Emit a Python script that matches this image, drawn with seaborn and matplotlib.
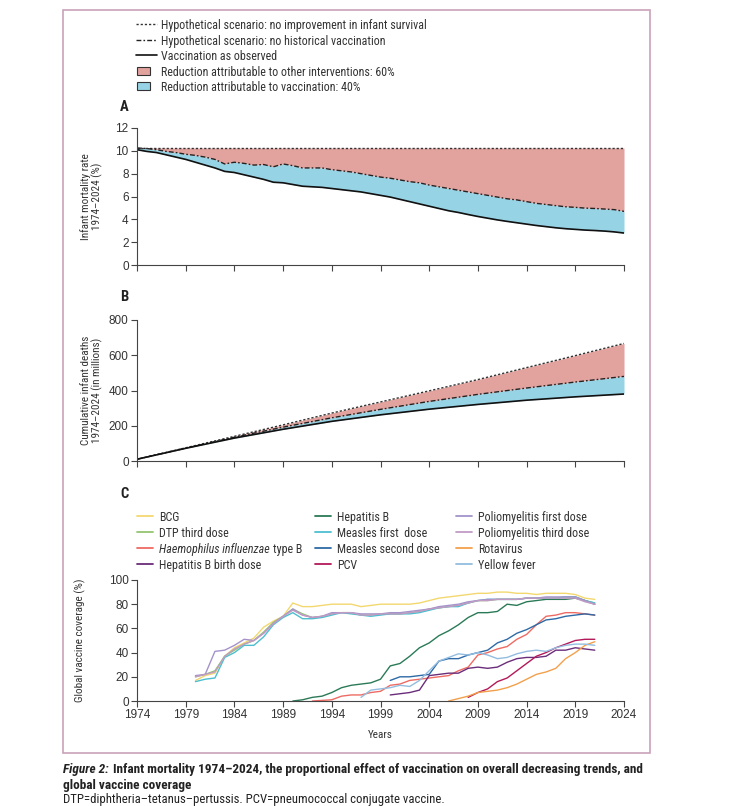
import matplotlib
matplotlib.use("Agg")
import matplotlib.pyplot as plt
import seaborn as sns
import pandas as pd
from matplotlib import font_manager
from matplotlib.lines import Line2D
from matplotlib.patches import Rectangle

# ---------------- data ----------------
years = list(range(1974, 2025))
observed = [10.1, 9.95, 9.85, 9.65, 9.45, 9.25, 9.0, 8.75, 8.5, 8.2,
            8.1, 7.9, 7.7, 7.5, 7.25, 7.2, 7.05, 6.9, 6.85, 6.8,
            6.7, 6.6, 6.5, 6.4, 6.25, 6.1, 5.95, 5.75, 5.55, 5.35,
            5.15, 4.95, 4.75, 4.6, 4.42, 4.25, 4.1, 3.95, 3.82, 3.7,
            3.58, 3.46, 3.36, 3.26, 3.18, 3.12, 3.06, 3.02, 2.97, 2.9, 2.8]
no_vaccination = [10.25, 10.2, 10.1, 9.95, 9.85, 9.7, 9.6, 9.45, 9.25, 8.85,
                  9.0, 8.9, 8.75, 8.8, 8.6, 8.85, 8.7, 8.5, 8.5, 8.5,
                  8.35, 8.25, 8.15, 8.0, 7.85, 7.7, 7.6, 7.45, 7.3, 7.2,
                  7.0, 6.85, 6.7, 6.55, 6.4, 6.25, 6.1, 5.95, 5.8, 5.7,
                  5.55, 5.4, 5.3, 5.2, 5.1, 5.05, 4.98, 4.95, 4.9, 4.85, 4.7]
no_improvement = [10.25, 10.25, 10.25, 10.25, 10.25, 10.25, 10.25, 10.25, 10.25, 10.25,
                  10.25, 10.25, 10.25, 10.25, 10.25, 10.25, 10.25, 10.25, 10.25, 10.25,
                  10.25, 10.25, 10.25, 10.25, 10.25, 10.25, 10.25, 10.25, 10.25, 10.25,
                  10.25, 10.25, 10.25, 10.25, 10.25, 10.25, 10.25, 10.25, 10.25, 10.25,
                  10.25, 10.25, 10.25, 10.25, 10.25, 10.25, 10.25, 10.25, 10.25, 10.25, 10.25]

years_b = [1974, 1979, 1984, 1989, 1994, 1999, 2004, 2009, 2014, 2019, 2024]
cum_observed = [10, 72, 130, 180, 225, 262, 294, 321, 345, 364, 380]
cum_no_vaccination = [10, 73, 135, 192, 245, 293, 338, 378, 414, 448, 480]
cum_no_improvement = [10, 75, 140, 205, 272, 335, 398, 462, 530, 598, 667]

bcg_start = 1980
bcg = [17, 21, 23, 37, 44, 48, 52, 61, 66, 70, 81, 78, 78, 79, 80, 80, 80, 78, 79, 80,
       80, 80, 80, 81, 83, 85, 86, 87, 88, 89, 89, 90, 90, 89, 89, 88, 89, 89, 89, 88, 85, 84]
dtp3_start = 1980
dtp3 = [20, 22, 25, 37, 42, 47, 50, 57, 65, 70, 76, 72, 69, 70, 72, 73, 73, 71, 71, 72,
        72, 72, 73, 74, 76, 77, 78, 79, 81, 83, 83, 84, 84, 84, 85, 85, 85, 85, 86, 86, 83, 81]
hib_start = 1992
hib = [0, 0.5, 1, 4, 5, 5, 7, 8, 13, 14, 17, 18, 19, 20, 21, 25, 28, 38, 40, 43,
       45, 51, 55, 63, 70, 71, 73, 73, 72, 71]
hepb_birth_start = 2000
hepb_birth = [5, 6, 7, 9, 21, 22, 23, 23, 27, 28, 27, 28, 32, 35, 36, 36, 37, 42, 42, 44, 43, 42]
hepb_start = 1990
hepb = [0, 1, 3, 4, 7, 11, 13, 14, 15, 18, 29, 31, 37, 44, 48, 54, 58, 63, 69, 73,
        73, 74, 80, 79, 82, 83, 84, 84, 84, 85, 83, 80]
measles1_start = 1980
measles1 = [16, 18, 19, 36, 40, 46, 46, 53, 63, 69, 73, 68, 68, 69, 71, 73, 72, 71, 70, 71,
            72, 72, 72, 73, 75, 77, 78, 78, 81, 83, 84, 84, 84, 84, 85, 85, 85, 85, 86, 86, 83, 81]
measles2_start = 2000
measles2 = [17, 20, 20, 21, 22, 33, 35, 35, 38, 40, 42, 48, 51, 56, 59, 63, 67, 68, 70, 71, 72, 71]
pcv_start = 2008
pcv = [3, 7, 10, 16, 19, 25, 31, 37, 40, 44, 47, 50, 51, 51]
polio1_start = 1980
polio1 = [21, 22, 41, 42, 46, 51, 50, 56, 64, 70, 76, 71, 69, 70, 73, 73, 73, 72, 72, 72,
          73, 73, 74, 75, 76, 78, 79, 80, 82, 83, 84, 84, 84, 84, 85, 85, 86, 86, 86, 86, 83, 80]
polio3_start = 1980
polio3 = [20, 22, 24, 37, 43, 47, 50, 56, 64, 70, 75, 71, 69, 70, 72, 73, 73, 71, 71, 72,
          72, 72, 73, 74, 76, 77, 78, 79, 81, 83, 83, 84, 84, 84, 85, 85, 85, 85, 85, 85, 82, 80]
rota_start = 2006
rota = [0, 2, 4, 7, 8, 9, 11, 14, 18, 22, 24, 27, 35, 40, 46, 49]
yf_start = 1997
yf = [3, 9, 10, 11, 13, 12, 17, 25, 33, 36, 39, 38, 40, 38, 35, 36, 39, 41, 42, 41,
      44, 46, 47, 47, 46]

vaccine_names = ["BCG", "DTP third dose", "Haemophilus influenzae type B", "Hepatitis B birth dose",
                 "Hepatitis B", "Measles first  dose", "Measles second dose", "PCV",
                 "Poliomyelitis first dose", "Poliomyelitis third dose", "Rotavirus", "Yellow fever"]
vaccine_colors = ["#f3d86f", "#93c572", "#ee6b63", "#6a2d7a",
                  "#2b7a57", "#4cbfcf", "#2d6aa6", "#b3195a",
                  "#a493cb", "#c19bc4", "#f3a04c", "#93bde0"]

series = [(bcg_start, bcg), (dtp3_start, dtp3), (hib_start, hib), (hepb_birth_start, hepb_birth),
          (hepb_start, hepb), (measles1_start, measles1), (measles2_start, measles2), (pcv_start, pcv),
          (polio1_start, polio1), (polio3_start, polio3), (rota_start, rota), (yf_start, yf)]

rows = []
for name, (start, vals) in zip(vaccine_names, series):
    for i, v in enumerate(vals):
        rows.append({"year": start + i, "coverage": v, "vaccine": name})
df_cov = pd.DataFrame(rows)
palette = dict(zip(vaccine_names, vaccine_colors))

# ---------------- style ----------------
sns.set_theme(style="ticks")
ttf = font_manager.fontManager.ttflist
names = {f.name for f in ttf}
text_font = None
text_stretch = "normal"
for cand in ["Liberation Sans Narrow", "Roboto Condensed", "Open Sans Condensed",
             "Noto Sans Condensed", "DejaVu Sans Condensed", "Arial Narrow"]:
    if cand in names:
        text_font = cand
        break
if text_font is None:
    for fam in ["Noto Sans", "Open Sans", "Roboto", "DejaVu Sans"]:
        cond = [f for f in ttf if f.name == fam and str(f.stretch) in
                ("condensed", "semi-condensed", "semicondensed", "400", "500")]
        if cond:
            text_font = fam
            text_stretch = "condensed" if any(str(f.stretch) in ("condensed", "400") for f in cond) \
                else "semi-condensed"
            break
if text_font is None:
    text_font = "Liberation Sans"

plt.rcParams["font.family"] = [text_font, "DejaVu Sans"]
plt.rcParams["font.stretch"] = text_stretch

W, H = 732, 806
fig = plt.figure(figsize=(W / 100, H / 100), dpi=100)
renderer = fig.canvas.get_renderer()

def fx(px):
    return px / W

def fy(py):
    return 1 - py / H

def fit(text_obj, target_px):
    w = text_obj.get_window_extent(renderer=renderer).width
    text_obj.set_fontsize(text_obj.get_fontsize() * target_px / w)
    return text_obj.get_fontsize()

def axes_px(top, bottom, left=137, right=624):
    return fig.add_axes([fx(left), fy(bottom), (right - left) / W, (bottom - top) / H])

axA = axes_px(128, 265)
axB = axes_px(320, 461)
axC = axes_px(580, 701)

PINK = "#e2a29e"
CYAN = "#96d3e5"
DASHED = (0, (3.5, 1.5, 1.2, 1.5))
DOTTED = (0, (1.6, 1.4))
SPINE = "#444444"
TXT = "#333333"
tick_font = "Liberation Sans"

# font sizes from target widths
probe = fig.text(0, 0, "Hypothetical scenario: no improvement in infant survival", fontsize=8)
leg_size = fit(probe, 267)
probe.remove()
ylab_size = leg_size * 0.93

for ax in (axA, axB, axC):
    sns.despine(ax=ax)
    for s in ("left", "bottom"):
        ax.spines[s].set_color(SPINE)
        ax.spines[s].set_linewidth(0.8)
    ax.tick_params(axis="both", direction="out", length=4, width=0.8, color=SPINE,
                   labelsize=8.5, labelcolor=TXT, pad=2)
    ax.set_xlim(1974, 2024)
    ax.set_xticks(list(range(1974, 2025, 5)))
    ax.set_facecolor("white")

# Panel A
axA.fill_between(years, no_vaccination, no_improvement, color=PINK, lw=0)
axA.fill_between(years, observed, no_vaccination, color=CYAN, lw=0)
sns.lineplot(x=years, y=no_improvement, ax=axA, color="#333333", lw=1.0, linestyle=DOTTED)
sns.lineplot(x=years, y=no_vaccination, ax=axA, color="#222222", lw=1.0, linestyle=DASHED)
sns.lineplot(x=years, y=observed, ax=axA, color="#111111", lw=1.2)
axA.set_ylim(0, 12)
axA.set_yticks(list(range(0, 13, 2)))
axA.set_xticklabels([])
axA.set_xlabel("")
axA.set_ylabel("Infant mortality rate\n1974\u20132024 (%)", fontsize=ylab_size, color=TXT,
               linespacing=1.1)
axA.yaxis.set_label_coords(-0.07, 0.5)

# Panel B
axB.fill_between(years_b, cum_no_vaccination, cum_no_improvement, color=PINK, lw=0)
axB.fill_between(years_b, cum_observed, cum_no_vaccination, color=CYAN, lw=0)
sns.lineplot(x=years_b, y=cum_no_improvement, ax=axB, color="#333333", lw=1.0, linestyle=DOTTED)
sns.lineplot(x=years_b, y=cum_no_vaccination, ax=axB, color="#222222", lw=1.0, linestyle=DASHED)
sns.lineplot(x=years_b, y=cum_observed, ax=axB, color="#111111", lw=1.2)
axB.set_ylim(0, 800)
axB.set_yticks(list(range(0, 801, 200)))
axB.set_xticklabels([])
axB.set_xlabel("")
axB.set_ylabel("Cumulative infant deaths\n1974\u20132024 (in millions)", fontsize=ylab_size,
               color=TXT, linespacing=1.1)
axB.yaxis.set_label_coords(-0.07, 0.5)

# Panel C
sns.lineplot(data=df_cov, x="year", y="coverage", hue="vaccine", palette=palette,
             hue_order=vaccine_names, lw=1.0, legend=False, ax=axC)
axC.set_ylim(0, 100)
axC.set_yticks(list(range(0, 101, 20)))
axC.set_xlabel("Years", fontsize=ylab_size, color=TXT, labelpad=6)
axC.set_ylabel("Global vaccine coverage (%)", fontsize=ylab_size, color=TXT)
axC.yaxis.set_label_coords(-0.105, 0.5)

for ax in (axA, axB, axC):
    for lab in ax.get_xticklabels() + ax.get_yticklabels():
        lab.set_family([tick_font, "DejaVu Sans"])
        lab.set_stretch("normal")

# Panel letters
for letter, ypx in (("A", 107), ("B", 297), ("C", 494)):
    fig.text(fx(120), fy(ypx), letter, fontsize=10.5, fontweight="bold",
             va="center", ha="left", color="#222222")

# Top legend (manual)
top_labels = ["Hypothetical scenario: no improvement in infant survival",
              "Hypothetical scenario: no historical vaccination",
              "Vaccination as observed",
              "Reduction attributable to other interventions: 60%",
              "Reduction attributable to vaccination: 40%"]
top_rows = [24, 39.5, 55, 70.5, 86]
top_styles = [("#333333", DOTTED, 1.0), ("#222222", DASHED, 1.0), ("#111111", "-", 1.2)]
for i, (lab, ry) in enumerate(zip(top_labels, top_rows)):
    if i < 3:
        col, ls, lw = top_styles[i]
        fig.add_artist(Line2D([fx(136), fx(157)], [fy(ry), fy(ry)], color=col,
                              linestyle=ls, lw=lw, transform=fig.transFigure))
    else:
        fc = PINK if i == 3 else CYAN
        fig.add_artist(Rectangle((fx(137), fy(ry + 4)), 13 / W, 8 / H, facecolor=fc,
                                 edgecolor="#333333", lw=0.8, transform=fig.transFigure))
    fig.text(fx(161), fy(ry), lab, fontsize=leg_size, va="center_baseline", ha="left", color=TXT)

# Panel C legend (manual, three columns)
col_line_x = [137, 315, 456]
col_text_x = [159, 337, 478]
c_rows = [516, 532, 548, 564]
for i, (name, colr) in enumerate(zip(vaccine_names, vaccine_colors)):
    c, r = divmod(i, 4)
    ry = c_rows[r]
    fig.add_artist(Line2D([fx(col_line_x[c]), fx(col_line_x[c] + 16)], [fy(ry), fy(ry)],
                          color=colr, lw=1.3, transform=fig.transFigure))
    if name.startswith("Haemophilus"):
        t_it = fig.text(fx(col_text_x[c]), fy(ry), "Haemophilus influenzae", fontsize=leg_size,
                        fontstyle="italic", va="center_baseline", ha="left", color=TXT)
        bb = t_it.get_window_extent(renderer=renderer)
        fig.text(bb.x1 / W + 0.28 * leg_size * 100 / 72 / W, fy(ry), "type B", fontsize=leg_size,
                 va="center_baseline", ha="left", color=TXT)
    else:
        fig.text(fx(col_text_x[c]), fy(ry), name, fontsize=leg_size, va="center_baseline",
                 ha="left", color=TXT)

# Frame
fig.patches.append(Rectangle((fx(63), fy(753)), (650 - 63) / W, (753 - 10) / H,
                             transform=fig.transFigure, fill=False,
                             edgecolor="#c9a2b9", lw=1.2))

# Caption
cap1 = "Infant mortality 1974\u20132024, the proportional effect of vaccination on overall decreasing trends, and"
probe = fig.text(0, 0, "Figure 2: " + cap1, fontsize=9, fontweight="bold")
cap_size = fit(probe, 582)
probe.remove()
t1 = fig.text(fx(63), fy(768), "Figure 2:", fontsize=cap_size, fontweight="bold",
              fontstyle="italic", va="center_baseline", ha="left", color="#222222")
bb = t1.get_window_extent(renderer=renderer)
fig.text(bb.x1 / W + 0.3 * cap_size * 100 / 72 / W, fy(768), cap1,
         fontsize=cap_size, fontweight="bold", va="center_baseline", ha="left", color="#222222")
fig.text(fx(63), fy(784), "global vaccine coverage", fontsize=cap_size, fontweight="bold",
         va="center_baseline", ha="left", color="#222222")
t3 = fig.text(fx(63), fy(798),
              "DTP=diphtheria\u2013tetanus\u2013pertussis. PCV=pneumococcal conjugate vaccine.",
              fontsize=cap_size, va="center_baseline", ha="left", color="#222222")
fit(t3, 378)

fig.savefig("out.png", dpi=100, facecolor="white")
